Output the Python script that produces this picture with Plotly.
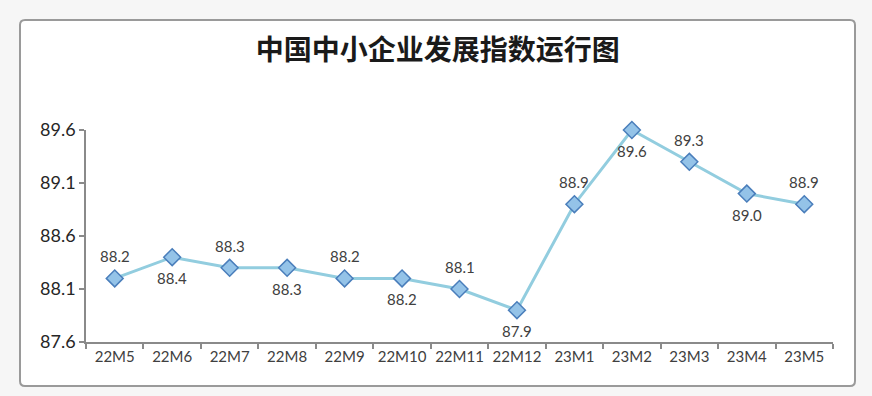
import plotly.graph_objects as go

categories = ["22M5", "22M6", "22M7", "22M8", "22M9", "22M10", "22M11",
              "22M12", "23M1", "23M2", "23M3", "23M4", "23M5"]
values = [88.2, 88.4, 88.3, 88.3, 88.2, 88.2, 88.1, 87.9, 88.9, 89.6, 89.3, 89.0, 88.9]
label_above = [True, False, True, False, True, False, True, False,
               True, False, True, False, True]
y_ticks = [87.6, 88.1, 88.6, 89.1, 89.6]
title_text = "中国中小企业发展指数运行图"

W, H = 872, 396
L, R, T, B = 86, 39, 130, 54
pw, ph = W - L - R, H - T - B

def px_x(p):
    return (p - L) / pw

def px_y(p):
    return (H - B - p) / ph

fig = go.Figure()
fig.add_trace(go.Scatter(
    x=categories, y=values,
    mode="lines+markers",
    line=dict(color="#92CDDF", width=3),
    marker=dict(symbol="diamond", size=13, color="#94C3E8",
                line=dict(color="#4A7EBB", width=1.5)),
    cliponaxis=False,
    showlegend=False,
))

for c, v, up in zip(categories, values, label_above):
    fig.add_annotation(x=c, y=v, text=f"{v:.1f}", showarrow=False,
                       yshift=22 if up else -21,
                       font=dict(family="Lato, Open Sans, sans-serif", size=15, color="#404040"))

# chart frame (rounded rectangle)
x0, x1 = px_x(20), px_x(855)
y0, y1 = px_y(386), px_y(20)
rx, ry = 5 / pw, 5 / ph
path = (f"M {x0+rx},{y1} L {x1-rx},{y1} Q {x1},{y1} {x1},{y1-ry} "
        f"L {x1},{y0+ry} Q {x1},{y0} {x1-rx},{y0} L {x0+rx},{y0} "
        f"Q {x0},{y0} {x0},{y0+ry} L {x0},{y1-ry} Q {x0},{y1} {x0+rx},{y1} Z")
fig.add_shape(type="path", path=path, xref="paper", yref="paper",
              fillcolor="white", line=dict(color="#9a9a9a", width=2), layer="below")

fig.update_layout(
    width=W, height=H,
    margin=dict(l=L, r=R, t=T, b=B),
    paper_bgcolor="#f6f6f6",
    plot_bgcolor="rgba(0,0,0,0)",
    title=dict(text=title_text, x=0.502, xanchor="center", y=1 - 50 / H, yanchor="middle",
               xref="container", yref="container",
               font=dict(family="Noto Sans CJK SC", size=28, color="#1a1a1a", weight="bold")),
    xaxis=dict(
        type="category", range=[-0.5, 12.5],
        showline=True, linecolor="#8a8a8a", linewidth=1.5,
        ticks="outside", tickson="boundaries", ticklen=5, tickcolor="#8a8a8a", tickwidth=1.5,
        showgrid=False, zeroline=False, tickangle=0,
        tickfont=dict(family="Lato, Open Sans, sans-serif", size=15, color="#404040"),
    ),
    yaxis=dict(
        range=[87.6, 89.6], tickvals=y_ticks, ticktext=[f"{v:.1f}" for v in y_ticks],
        showline=True, linecolor="#8a8a8a", linewidth=1.5,
        ticks="outside", ticklen=5, tickcolor="#8a8a8a", tickwidth=1.5,
        showgrid=False, zeroline=False,
        tickfont=dict(family="Lato, Open Sans, sans-serif", size=18, color="#262626"),
    ),
)

fig.write_html("out.html", config={"displayModeBar": False},
               post_script="document.body.style.margin='0';document.body.style.background='#f6f6f6';")
